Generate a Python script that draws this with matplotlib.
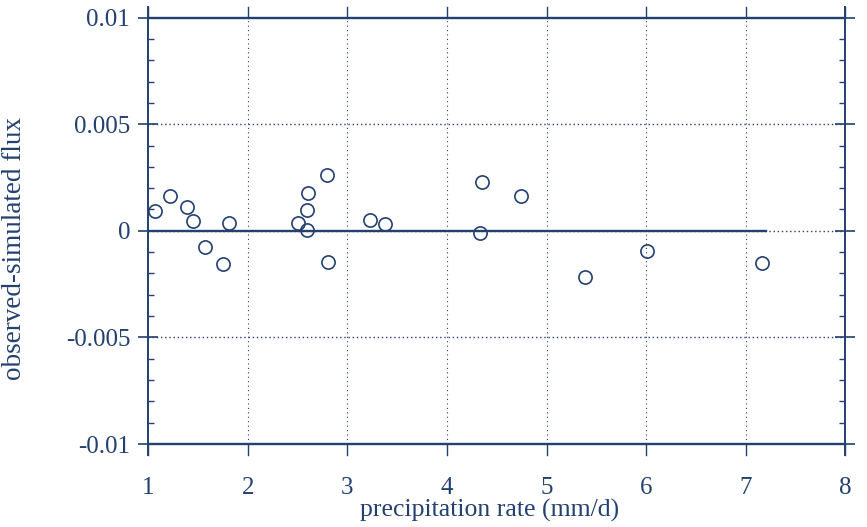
import matplotlib.pyplot as plt
from matplotlib.ticker import MultipleLocator

# observed minus simulated flux vs precipitation rate
precip = [1.07, 1.22, 1.39, 1.45, 1.57, 1.75, 1.81, 2.50, 2.59, 2.59, 2.60,
          2.79, 2.80, 3.23, 3.38, 4.35, 4.33, 4.74, 5.39, 6.01, 7.16]
resid = [0.00091, 0.00164, 0.00113, 0.00044, -0.00075, -0.00155, 0.00039,
         0.00036, 0.00005, 0.00097, 0.00175, 0.0026, -0.00147, 0.0005,
         0.0003, 0.00229, -0.00011, 0.00163, -0.00217, -0.00094, -0.00153]
xticks = [1, 2, 3, 4, 5, 6, 7, 8]
yticks = [-0.01, -0.005, 0, 0.005, 0.01]
ylabels = ['-0.01', '-0.005', '0', '0.005', '0.01']

ink = '#23406f'
plt.rcParams['font.family'] = ['Liberation Serif', 'DejaVu Serif']

fig = plt.figure(figsize=(8.67, 5.27), dpi=100)
ax = fig.add_axes([0.171, 0.137, 0.804, 0.850])
ax.set_xlim(1, 8)
ax.set_ylim(-0.0105, 0.0105)

# frame: only left/right spines, the +-0.01 lines are drawn by hand
for side in ['top', 'bottom']:
    ax.spines[side].set_visible(False)
for side in ['left', 'right']:
    ax.spines[side].set_color(ink)
    ax.spines[side].set_linewidth(1.4)

# grid
for x in xticks:
    if 1 < x < 8:
        ax.plot([x, x], [-0.01, 0.01], ls=(0, (1, 3)), color=ink, lw=0.8)
    ax.plot([x, x], [0.01, 0.0105], color=ink, lw=1.0, clip_on=False)
    ax.plot([x, x], [-0.0105, -0.01], color=ink, lw=1.0, clip_on=False)
for y in [0.01, -0.01]:
    ax.axhline(y, color=ink, lw=1.7)
for y in [0.005, -0.005, 0]:
    ax.axhline(y, ls=(0, (1, 2)), color=ink, lw=1.0)
# solid zero line over the data range
ax.plot([1, 7.2], [0, 0], color=ink, lw=1.7)

ax.plot(precip, resid, 'o', mfc='none', mec=ink, ms=9.5, mew=1.2)

ax.set_xticks(xticks)
ax.set_xticklabels([str(x) for x in xticks])
ax.set_yticks(yticks)
ax.set_yticklabels(ylabels)
ax.yaxis.set_minor_locator(MultipleLocator(0.001))
ax.tick_params(axis='x', length=0, pad=16, labelsize=18, colors=ink)
ax.tick_params(axis='y', which='major', direction='inout', length=14,
               width=1.2, left=True, right=True, labelsize=18, colors=ink,
               pad=6)
ax.tick_params(axis='y', which='minor', direction='in', length=4,
               width=1.0, left=True, right=True, colors=ink)

fig.text(490 / 867, 1 - 510 / 527, 'precipitation rate (mm/d)', fontsize=18.5,
         color=ink, ha='center', va='center')
fig.text(15 / 867, 1 - 248 / 527, 'observed-simulated flux', fontsize=19.5,
         color=ink, ha='center', va='center', rotation=90)

fig.savefig('out.png', dpi=100)
